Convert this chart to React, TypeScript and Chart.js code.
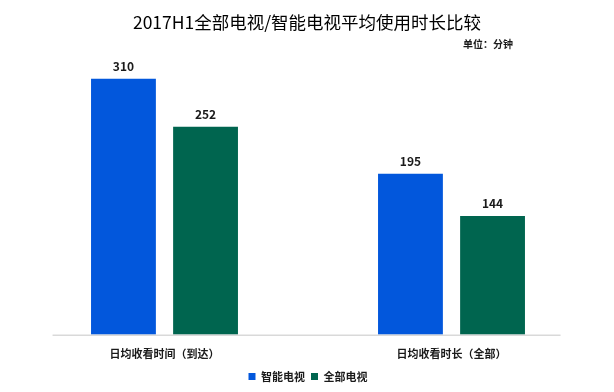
import React, { useEffect, useRef } from "react";
import { Chart, registerables } from "chart.js";

Chart.register(...registerables);

const TITLE = "2017H1全部电视/智能电视平均使用时长比较";
const UNIT = "单位：分钟";
const categories = ["日均收看时间（到达）", "日均收看时长（全部）"];
const seriesNames = ["智能电视", "全部电视"];
const smartTV = [310, 195];
const allTV = [252, 144];
const colors = ["#0257DC", "#00654F"];
const FONT = "'Noto Sans CJK SC', 'Noto Sans', sans-serif";

const textPlugin = {
  id: "texts",
  afterDatasetsDraw(chart: any) {
    const ctx = chart.ctx;
    const xs = chart.scales.x;
    const area = chart.chartArea;
    ctx.save();
    // baseline
    const w = xs.getPixelForValue(1) - xs.getPixelForValue(0);
    ctx.strokeStyle = "#d9d9d9";
    ctx.lineWidth = 1.5;
    ctx.beginPath();
    ctx.moveTo(xs.getPixelForValue(0) - 0.39 * w, area.bottom + 0.5);
    ctx.lineTo(xs.getPixelForValue(1) + 0.38 * w, area.bottom + 0.5);
    ctx.stroke();
    // value labels
    ctx.fillStyle = "#1a1a1a";
    ctx.font = `bold 12px ${FONT}`;
    ctx.textAlign = "center";
    ctx.textBaseline = "middle";
    chart.data.datasets.forEach((ds: any, i: number) => {
      const meta = chart.getDatasetMeta(i);
      meta.data.forEach((bar: any, j: number) => {
        ctx.fillText(String(ds.data[j]), bar.x, bar.y - 12);
      });
    });
    // title
    ctx.font = `17.5px ${FONT}`;
    ctx.fillStyle = "#000";
    ctx.fillText(TITLE, chart.width / 2, 22.5);
    ctx.font = `bold 10px ${FONT}`;
    ctx.fillStyle = "#1a1a1a";
    ctx.textAlign = "right";
    ctx.fillText(UNIT, 513, 44);
    ctx.restore();
  },
};

export default function App() {
  const ref = useRef<HTMLCanvasElement>(null);
  useEffect(() => {
    const chart = new Chart(ref.current as HTMLCanvasElement, {
      type: "bar",
      data: {
        labels: categories,
        datasets: [
          { label: seriesNames[0], data: smartTV, backgroundColor: colors[0] },
          { label: seriesNames[1], data: allTV, backgroundColor: colors[1] },
        ],
      },
      options: {
        animation: false,
        responsive: true,
        maintainAspectRatio: false,
        layout: { padding: { top: 40, left: 21, right: 19, bottom: 0 } },
        datasets: { bar: { barPercentage: 0.79, categoryPercentage: 0.572 } },
        plugins: {
          legend: {
            position: "bottom",
            labels: {
              boxWidth: 7,
              boxHeight: 7,
              padding: 6,
              color: "#1a1a1a",
              font: { family: FONT, size: 11, weight: "bold" },
            },
          },
          tooltip: { enabled: false },
          title: { display: false },
        },
        scales: {
          x: {
            grid: { display: false, drawTicks: false },
            border: { display: false },
            ticks: {
              padding: 12,
              color: "#1a1a1a",
              font: { family: FONT, size: 11, weight: "bold" },
            },
            afterFit: (scale: any) => {
              scale.height = scale.height - 7;
            },
          },
          y: { display: false, min: 0, max: 357 },
        },
      },
      plugins: [textPlugin],
    } as any);
    return () => chart.destroy();
  }, []);
  return (
    <div style={{ position: "fixed", left: 0, top: 0, width: 614, height: 392, background: "#fff" }}>
      <canvas ref={ref} />
    </div>
  );
}
